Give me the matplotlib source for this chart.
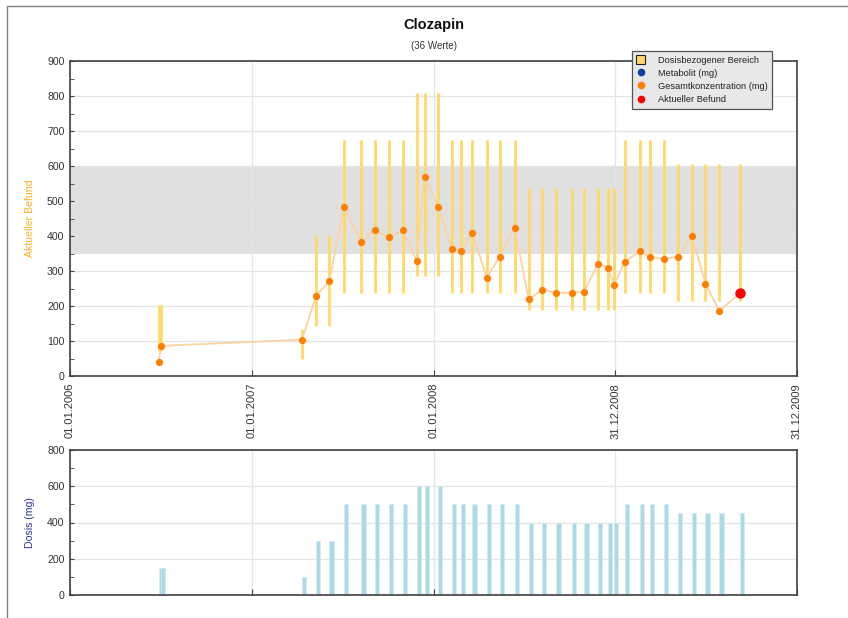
import matplotlib
matplotlib.use("Agg")
import matplotlib.pyplot as plt
from matplotlib.lines import Line2D
from matplotlib.patches import Patch
from matplotlib.ticker import MultipleLocator
import pandas as pd

plt.rcParams['font.family'] = ['Liberation Sans', 'DejaVu Sans']

# Measurement dates
dates = pd.to_datetime([
    "2006-06-28", "2006-07-03", "2007-04-12", "2007-05-10", "2007-06-06",
    "2007-07-05", "2007-08-09", "2007-09-05", "2007-10-03", "2007-10-31",
    "2007-11-28", "2007-12-14", "2008-01-10", "2008-02-07", "2008-02-25",
    "2008-03-19", "2008-04-17", "2008-05-13", "2008-06-12", "2008-07-10",
    "2008-08-06", "2008-09-04", "2008-10-05", "2008-10-30", "2008-11-26",
    "2008-12-16", "2008-12-29", "2009-01-19", "2009-02-18", "2009-03-10",
    "2009-04-07", "2009-05-06", "2009-06-03", "2009-06-30", "2009-07-28",
    "2009-09-07",
])

# Total concentration per measurement
gesamt = [40, 86, 104, 229, 271, 484, 383, 416, 396, 416,
          330, 570, 484, 363, 358, 409, 281, 341, 424, 219,
          246, 238, 238, 241, 321, 309, 261, 326, 356, 341,
          334, 341, 401, 264, 186, 236]

# Daily dose (mg)
dosis = [150, 150, 100, 300, 300, 500, 500, 500, 500, 500,
         600, 600, 600, 500, 500, 500, 500, 500, 500, 400,
         400, 400, 400, 400, 400, 400, 400, 500, 500, 500,
         500, 450, 450, 450, 450, 450]

# Dose-related expected range (lower / upper bound)
bereich_unten = [71, 71, 48, 143, 143, 238, 238, 238, 238, 238,
                 285, 285, 285, 238, 238, 238, 238, 238, 238, 190,
                 190, 190, 190, 190, 190, 190, 190, 238, 238, 238,
                 238, 214, 214, 214, 214, 214]
bereich_oben = [202, 202, 135, 404, 404, 673, 673, 673, 673, 673,
                808, 808, 808, 673, 673, 673, 673, 673, 673, 538,
                538, 538, 538, 538, 538, 538, 538, 673, 673, 673,
                673, 606, 606, 606, 606, 606]

# Therapeutic reference range
ref_unten, ref_oben = 350, 600

tick_dates = pd.to_datetime(["2006-01-01", "2007-01-01", "2008-01-01",
                             "2008-12-31", "2009-12-31"])
tick_labels = ["01.01.2006", "01.01.2007", "01.01.2008", "31.12.2008", "31.12.2009"]

W, H = 848, 618
fig = plt.figure(figsize=(W / 100, H / 100), dpi=100)

def box(l, t, r, b):
    return [l / W, 1 - b / H, (r - l) / W, (b - t) / H]

ax = fig.add_axes(box(70, 61, 797, 376))
ax2 = fig.add_axes(box(70, 450, 797, 595))

spine_col = '#404040'
text_col = '#333333'
grid_col = '#e4e4e4'

xmin, xmax = tick_dates[0], tick_dates[-1]

# --- upper panel: concentrations ---
ax.axhspan(ref_unten, ref_oben, color='#e0e0e0', zorder=0, lw=0)
ax.vlines(dates, bereich_unten, bereich_oben, colors='#ffd966', lw=2.0, zorder=2)
ax.plot(dates, gesamt, color='#f9d3a6', lw=1.3, zorder=3)
ax.plot(dates, gesamt, 'o', color='#ff8000', ms=4.2, mec='#ff8000', zorder=4)
ax.plot(dates[-1:], gesamt[-1:], 'o', color='#ff0000', ms=6.5, mec='#ff0000', zorder=5)

ax.set_xlim(xmin, xmax)
ax.set_ylim(0, 900)
ax.yaxis.set_major_locator(MultipleLocator(100))
ax.yaxis.set_minor_locator(MultipleLocator(50))
ax.set_xticks(tick_dates)
ax.set_xticklabels(tick_labels, rotation=90, fontsize=8, color=text_col)
ax.grid(True, which='major', color=grid_col, lw=0.9, zorder=1)
ax.set_axisbelow(True)

# --- lower panel: dose ---
bar_w = pd.Timedelta(days=8.5)
ax2.bar(dates, dosis, width=bar_w, align='edge', color='#add8e6',
        edgecolor='#d5ecf3', lw=0.5, zorder=2)
ax2.set_xlim(xmin, xmax)
ax2.set_ylim(0, 800)
ax2.yaxis.set_major_locator(MultipleLocator(200))
ax2.yaxis.set_minor_locator(MultipleLocator(100))
ax2.set_xticks(tick_dates)
ax2.set_xticklabels([])
ax2.grid(True, which='major', color=grid_col, lw=0.9, zorder=1)
ax2.set_axisbelow(True)

for a in (ax, ax2):
    for s in a.spines.values():
        s.set_color(spine_col)
        s.set_linewidth(1.2)
    a.tick_params(axis='both', which='both', direction='in', color=spine_col,
                  labelcolor=text_col)
    a.tick_params(axis='y', which='major', length=3, labelsize=7.6, pad=4)
    a.tick_params(axis='y', which='minor', length=3)
    a.tick_params(axis='x', which='major', length=4, pad=5)
    a.tick_params(top=False, right=False)

# axis titles placed at fixed horizontal position
fig.text(30 / W, 1 - 218 / H, "Aktueller Befund", rotation=90, ha='center',
         va='center', color='#ffb020', fontsize=7.6)
fig.text(30 / W, 1 - 523 / H, "Dosis (mg)", rotation=90, ha='center',
         va='center', color='#3030a0', fontsize=7.6)

# --- legend ---
handles = [
    Patch(facecolor='#ffd966', edgecolor='#222222', lw=0.8),
    Line2D([], [], ls='none', marker='o', color='#0a3fa8', ms=4.5),
    Line2D([], [], ls='none', marker='o', color='#ff8000', ms=4.5),
    Line2D([], [], ls='none', marker='o', color='#ff0000', ms=4.5),
]
labels = ["Dosisbezogener Bereich", "Metabolit (mg)",
          "Gesamtkonzentration (mg)", "Aktueller Befund"]
leg = fig.legend(handles, labels, loc='upper left',
                 bbox_to_anchor=(632 / W, 1 - 51 / H), fontsize=6.7,
                 frameon=True, fancybox=False, handlelength=1.0,
                 handleheight=1.0, handletextpad=1.3, labelspacing=0.42,
                 borderpad=0.45, borderaxespad=0)
leg.get_frame().set_facecolor('#e8e8e8')
leg.get_frame().set_edgecolor('#555555')
leg.get_frame().set_linewidth(0.9)
leg.get_frame().set_alpha(1)
for t in leg.get_texts():
    t.set_color('#222222')

# --- titles ---
fig.text(433.5 / W, 1 - 25 / H, "Clozapin", ha='center', va='center',
         fontsize=10.5, fontweight='bold', color='#111111')
fig.text(433.5 / W, 1 - 46 / H, "(36 Werte)", ha='center', va='center',
         fontsize=7, color=text_col)

# --- outer frame ---
fig.add_artist(Line2D([7 / W, 7 / W, 1.0], [0.0, 1 - 6 / H, 1 - 6 / H],
                      transform=fig.transFigure, color='#808080', lw=1.0))

fig.savefig("out.png", dpi=100)
